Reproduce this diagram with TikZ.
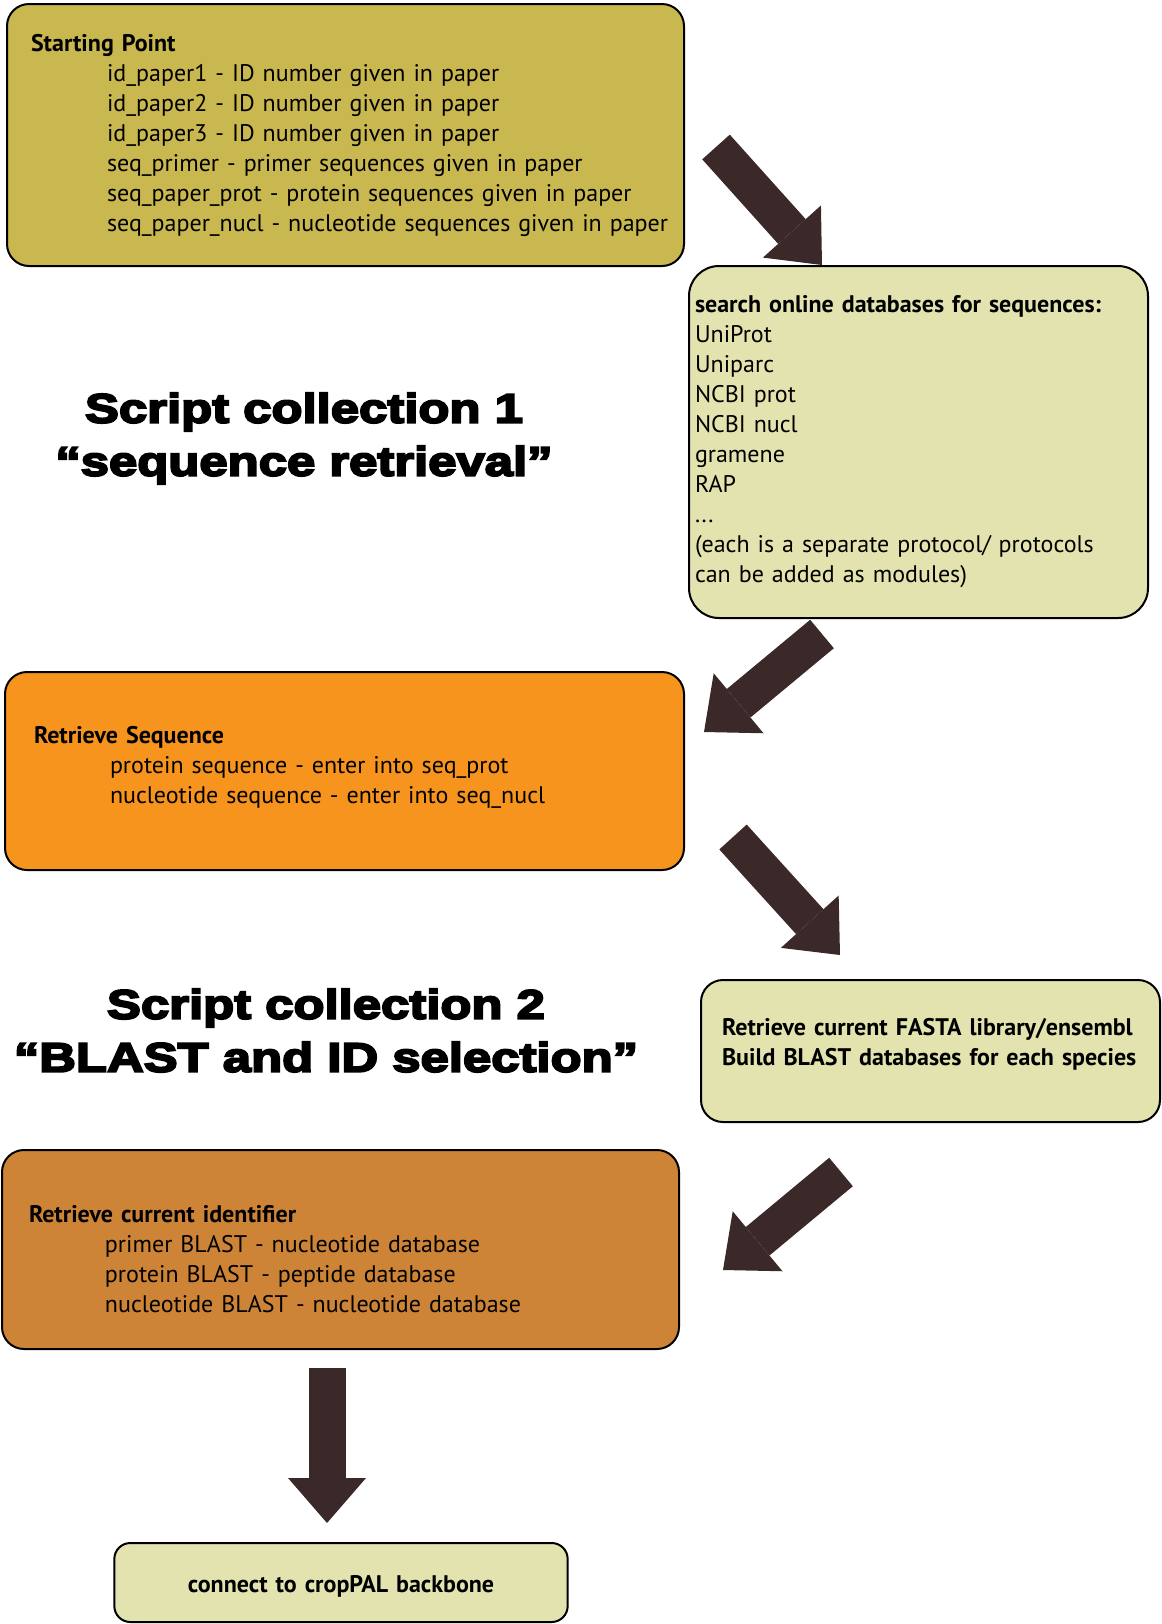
\documentclass[tikz,border=0pt]{standalone}
\usepackage{fontspec}
\setmainfont{PT Sans}
\newfontfamily\headfont{Liberation Sans}[BoldFeatures={FakeBold=5, FakeStretch=1.24}]
\usetikzlibrary{arrows.meta}
\definecolor{Olive}{HTML}{C9B74F}
\definecolor{Pale}{HTML}{E3E3AF}
\definecolor{Amber}{HTML}{F7941E}
\definecolor{Rust}{HTML}{CE8436}
\definecolor{Cocoa}{HTML}{3B2828}
\newcommand{\ind}{\hspace*{38pt}}
\hyphenpenalty=10000

\begin{document}
\begin{tikzpicture}[x=0.5pt, y=-0.5pt,
    box/.style={draw=black, line width=1pt, rounded corners=11pt, align=left,
                inner ysep=0pt, font=\fontsize{12}{15}\selectfont},
    ttl/.style={font=\headfont\bfseries\fontsize{20.5}{26.5}\selectfont, align=center},
    fat/.style={line width=18.5pt, color=Cocoa,
                -{Triangle[width=39pt, length=22.5pt, line width=0pt]}}]
    \useasboundingbox (0,0) rectangle (1162,1624);
    % boxes
    \node[box, fill=Olive, text width=326.5pt, inner xsep=6pt, minimum height=131pt] (start) at (345.5,135)
      {\hspace*{6pt}\textbf{Starting Point}\\
       \ind\hspace*{6pt}id\_paper1 - ID number given in paper\\
       \ind\hspace*{6pt}id\_paper2 - ID number given in paper\\
       \ind\hspace*{6pt}id\_paper3 - ID number given in paper\\
       \ind\hspace*{6pt}seq\_primer - primer sequences given in paper\\
       \ind\hspace*{6pt}seq\_paper\_prot - protein sequences given in paper\\
       \ind\hspace*{6pt}seq\_paper\_nucl - nucleotide sequences given in paper};
    \node[box, fill=Pale, rounded corners=15pt, text width=223.5pt, inner xsep=3pt, minimum height=176pt] (search) at (918.5,442)
      {\textbf{search online databases for sequences:}\\
       UniProt\\ Uniparc\\ NCBI prot\\ NCBI nucl\\ gramene\\ RAP\\ ...\\
       (each is a separate protocol/ protocols\\ can be added as modules)};
    \node[box, fill=Amber, text width=310.5pt, inner xsep=14.5pt, minimum height=99pt] (retseq) at (344.5,771)
      {\textbf{Retrieve Sequence}\\
       \ind protein sequence - enter into seq\_prot\\
       \ind nucleotide sequence - enter into seq\_nucl\rule[-6pt]{0pt}{1pt}};
    \node[box, fill=Pale, text width=216.5pt, inner xsep=6.5pt, minimum height=71pt] (fasta) at (930.5,1051)
      {\hspace*{4pt}\textbf{Retrieve current FASTA library/ensembl}\\
       \hspace*{4pt}\textbf{Build BLAST databases for each species}\rule[-9.5pt]{0pt}{1pt}};
    \node[box, fill=Rust, text width=311.5pt, inner xsep=13.5pt, minimum height=99.5pt] (retid) at (340.5,1249.5)
      {\rule{0pt}{18.4pt}\textbf{Retrieve current identifier}\\
       \ind primer BLAST - nucleotide database\\
       \ind protein BLAST - peptide database\\
       \ind nucleotide BLAST - nucleotide database};
    \node[box, fill=Pale, rounded corners=8pt, align=center, text width=220pt, minimum height=39.5pt] (backbone) at (341,1582.5)
      {\rule{0pt}{12pt}\textbf{connect to cropPAL backbone}};
    % titles
    \node[ttl] (coll1) at (304,438.5) {Script collection 1\\“sequence retrieval”};
    \node[ttl] (coll2) at (326,1030.5) {Script collection 2\\“BLAST and ID selection”};
    % block arrows
    \coordinate (a1s) at (716,147);  \coordinate (a1e) at (822,265);
    \coordinate (a2s) at (822,634);  \coordinate (a2e) at (704,732);
    \coordinate (a3s) at (733,837);  \coordinate (a3e) at (840,955);
    \coordinate (a4s) at (841,1172); \coordinate (a4e) at (723,1270);
    \coordinate (a5s) at (327,1368); \coordinate (a5e) at (327,1523);
    \draw[fat] (a1s)--(a1e); \draw[fat] (a2s)--(a2e); \draw[fat] (a3s)--(a3e);
    \draw[fat] (a4s)--(a4e); \draw[fat] (a5s)--(a5e);
  \end{tikzpicture}
\end{document}
